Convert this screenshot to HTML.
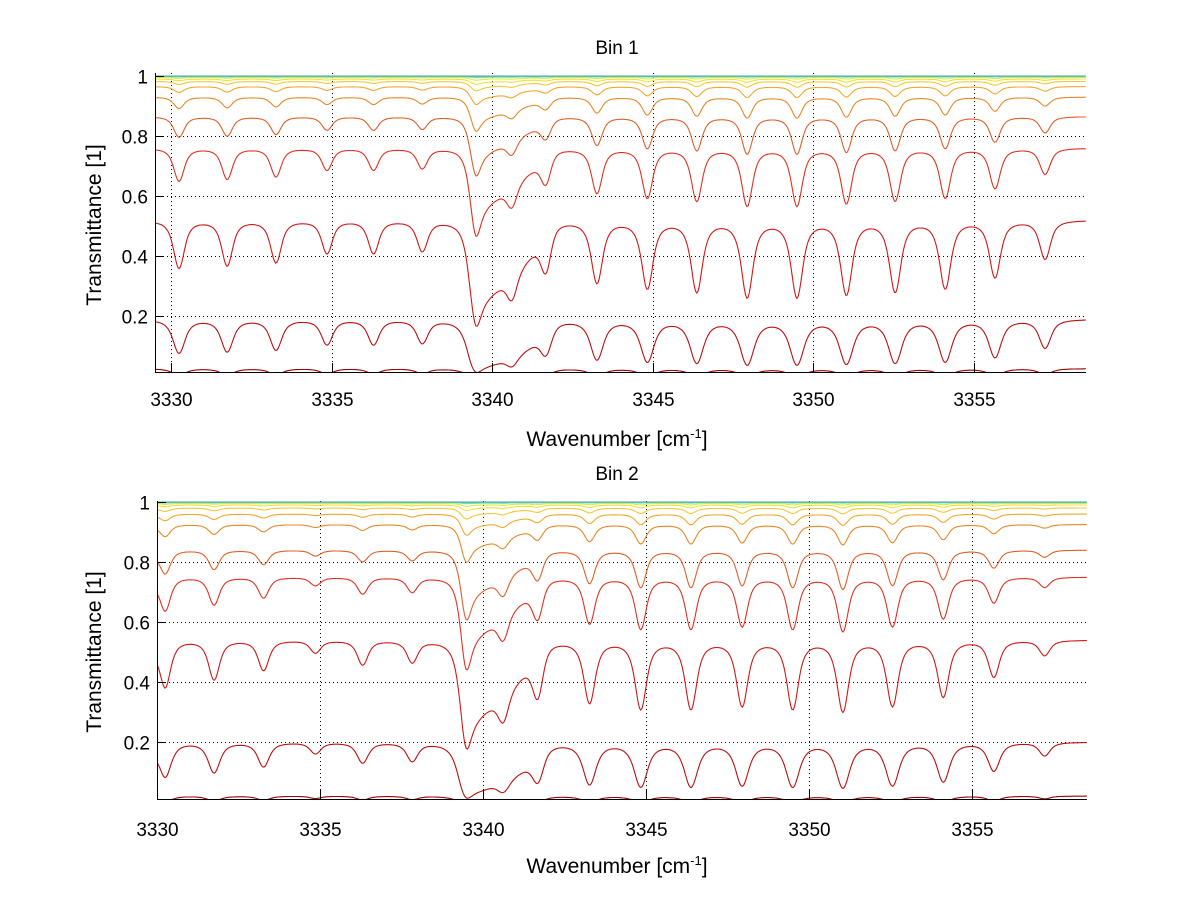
<!DOCTYPE html>
<html><head><meta charset="utf-8"><style>
html,body{margin:0;padding:0;background:#fff;}
svg{display:block;font-family:"Liberation Sans",sans-serif;}
</style></head><body>
<svg id="fig" width="1200" height="901" viewBox="0 0 1200 901">
<rect width="1200" height="901" fill="#fff"/>
</svg>
<script>
// ---- data ----
const lineCenters = [3330.25,3331.75,3333.27,3334.86,3336.31,3337.83,3339.42,3340.62,3341.68,3343.27,3344.84,3346.38,3347.95,3349.5,3351.04,3352.56,3354.12,3355.67,3357.23];
const bin1Strengths = [0.75,0.7,0.64,0.48,0.48,0.44,1.4,0.6,0.67,1.05,1.18,1.26,1.4,1.4,1.33,1.26,1.18,0.93,0.58];
const bin2Strengths = [0.75,0.6,0.44,0.17,0.35,0.31,1.4,0.67,0.8,1.06,1.2,1.2,1.13,1.2,1.26,1.13,0.93,0.55,0.21];
const bandWing = [1.2, 2.5];
const bin1Levels = [0.025,0.19,0.52,0.76,0.865,0.93,0.965,0.982,0.99,0.995,0.998,0.999,1.0];
const bin2Levels = [0.02,0.2,0.54,0.75,0.84,0.925,0.96,0.98,0.99,0.995,0.998,0.999,1.0];
const seriesColors = ['#990000','#bb1010','#d01818','#dd3322','#e0602a','#e8882a','#f0a830','#f5c838','#f0e040','#d8f040','#a0e860','#60d0c0','#40a0e0'];
const xTicks = [3330,3335,3340,3345,3350,3355];
const yTicks = [0.2,0.4,0.6,0.8,1];
const yTickLabels = ['0.2','0.4','0.6','0.8','1'];

const NS='http://www.w3.org/2000/svg';
const svg=document.getElementById('fig');
function el(tag,attrs,parent){const e=document.createElementNS(NS,tag);for(const k in attrs)e.setAttribute(k,attrs[k]);(parent||svg).appendChild(e);return e;}

const panels=[
 {title:'Bin 1',strengths:bin1Strengths,levels:bin1Levels,x0:171,sx:32.1,xmin:3329.5,xmax:3358.5,y0:376,left:155,right:1086,top:73,bottom:372,titleY:54,tickY:406,labelY:446,ylabY:225},
 {title:'Bin 2',strengths:bin2Strengths,levels:bin2Levels,x0:157,sx:32.6,xmin:3330,xmax:3358.53,y0:802,left:157,right:1087,top:501,bottom:799,titleY:480,tickY:836,labelY:873,ylabY:652}
];

const STEP=0.04;
const kernel=[];(function(){const s=0.09/STEP;for(let j=-8;j<=8;j++)kernel.push(Math.exp(-j*j/(2*s*s)));})();
function spectrum(strengths,level,xs){
  const tc=-Math.log(Math.max(level,1e-6));
  const hw=0.13, head=lineCenters[6];
  const T=xs.map(x=>{
    let s=0;
    for(let i=0;i<lineCenters.length;i++){const d=x-lineCenters[i];s+=strengths[i]*hw*hw/(d*d+hw*hw);}
    const dd=x-head;
    if(dd>0&&dd<bandWing[1]) s+=bandWing[0]*(1-dd/bandWing[1]);
    return Math.exp(-tc*(1+s));
  });
  const out=[];
  for(let i=0;i<T.length;i++){let a=0,w=0;for(let j=-8;j<=8;j++){const t=T[i+j];if(t!==undefined){a+=t*kernel[j+8];w+=kernel[j+8];}}out.push(a/w);}
  return out;
}

panels.forEach((p,pi)=>{
  const xPx=v=>p.x0+(v-3330)*p.sx;
  const yPx=v=>p.y0-v*300;
  const g=el('g',{});
  const t=el('text',{x:617,y:p.titleY,'text-anchor':'middle','font-size':19,fill:'#000'},g);t.textContent=p.title;
  
  
  const grid=el('g',{stroke:'#000','stroke-width':1,'stroke-dasharray':'1,3'},g);
  
  
  xTicks.forEach(v=>{const x=Math.round(xPx(v))+0.5;el('line',{x1:x,x2:x,y1:p.top,y2:p.bottom},grid);});
  yTicks.forEach(v=>{const y=Math.round(yPx(v))+0.5;el('line',{x1:p.left,x2:p.right,y1:y,y2:y},grid);});
  const clipId='clip'+pi;
  const cp=el('clipPath',{id:clipId},g);el('rect',{x:p.left,y:p.top-3,width:p.right-p.left,height:p.bottom-p.top+3},cp);
  const xs=[];for(let x=p.xmin;x<=p.xmax+1e-9;x+=STEP)xs.push(x);
  const cg=el('g',{'clip-path':'url(#'+clipId+')',fill:'none','stroke-width':1.1},g);
  p.levels.forEach((lv,si)=>{
    const T=spectrum(p.strengths,lv,xs);
    const d=xs.map((x,i)=>(i?'L':'M')+xPx(x).toFixed(1)+','+yPx(T[i]).toFixed(1)).join('');
    const path=el('path',{d:d,stroke:seriesColors[si]},cg);
    
    
  });
  const ax=el('g',{stroke:'#000','stroke-width':1},g);
  
  
  el('line',{x1:p.left+0.5,x2:p.left+0.5,y1:p.top,y2:p.bottom+0.5},ax);
  el('line',{x1:p.left,x2:p.right,y1:p.bottom+0.5,y2:p.bottom+0.5},ax);
  xTicks.forEach(v=>{const x=Math.round(xPx(v))+0.5;el('line',{x1:x,x2:x,y1:p.bottom,y2:p.bottom-9},ax);
    const tl=el('text',{x:x,y:p.tickY,'text-anchor':'middle','font-size':19,fill:'#000',stroke:'none'},g);tl.textContent=String(v);
    
    });
  yTicks.forEach((v,i)=>{const y=Math.round(yPx(v))+0.5;el('line',{x1:p.left,x2:p.left+9,y1:y,y2:y},ax);
    const tl=el('text',{x:p.left-7,y:y+7,'text-anchor':'end','font-size':19,fill:'#000',stroke:'none'},g);tl.textContent=yTickLabels[i];
    
    });
  const xl=el('text',{x:617,y:p.labelY,'text-anchor':'middle','font-size':21,fill:'#000'},g);
  xl.innerHTML='Wavenumber [cm<tspan dy="-8" font-size="13">-1</tspan><tspan dy="8">]</tspan>';
  
  
  const yl=el('text',{x:0,y:0,transform:'translate(101,'+p.ylabY+') rotate(-90)','text-anchor':'middle','font-size':21,fill:'#000'},g);
  yl.textContent='Transmittance [1]';
  
  
});
</script>
</body></html>
